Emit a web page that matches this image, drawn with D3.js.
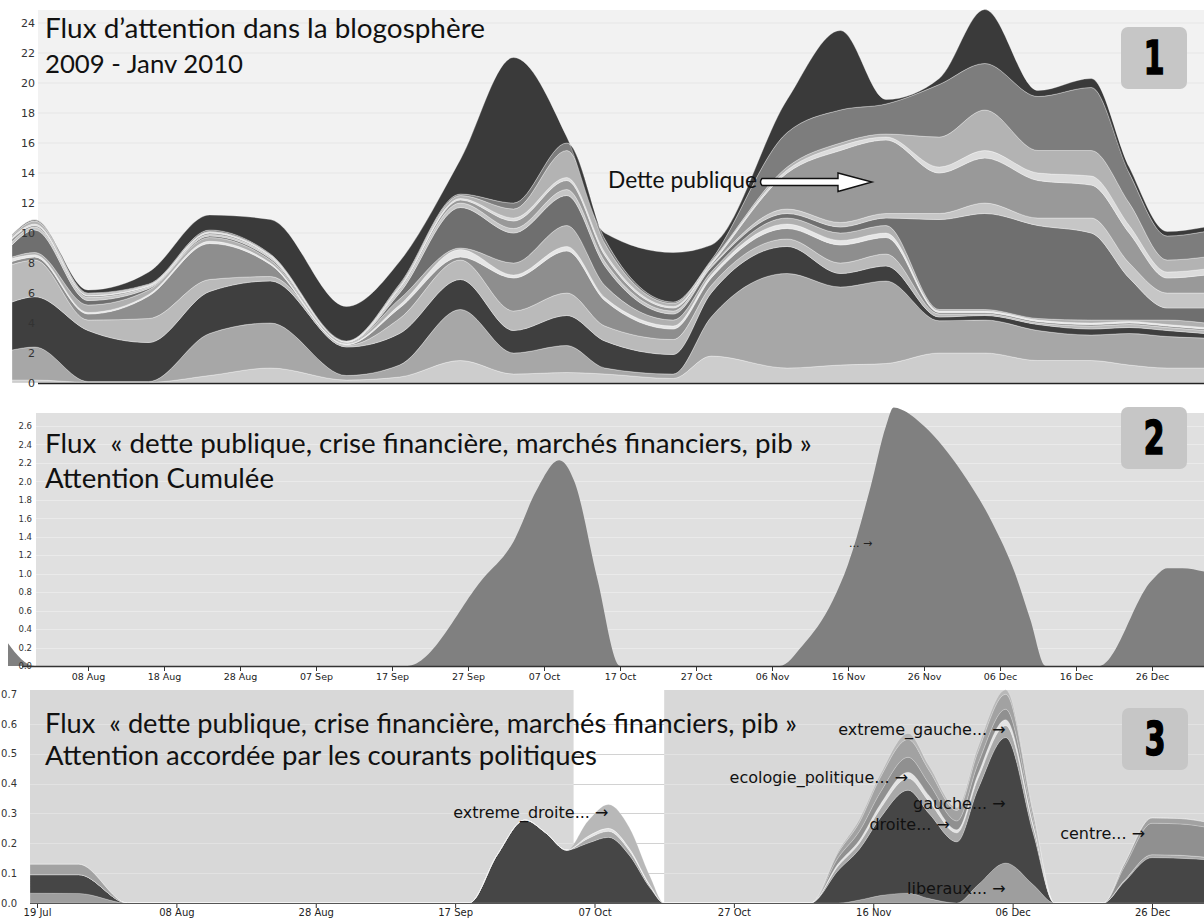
<!DOCTYPE html>
<html><head><meta charset="utf-8">
<script src="https://cdn.jsdelivr.net/npm/d3@7"></script>
<style>body{margin:0;background:#fff}svg{display:block}</style>
</head><body>
<svg id="c" width="1204" height="924"></svg>
<script>
// ---------------- DATA ----------------
// Panel 1: stream layers (bottom -> top)
const p1Dates = ["2009-07-29","2009-08-01","2009-08-08","2009-08-16","2009-08-24","2009-09-01","2009-09-11","2009-09-18","2009-09-26","2009-10-03","2009-10-10","2009-10-15","2009-10-24","2009-10-29","2009-11-08","2009-11-15","2009-11-21","2009-11-28","2009-12-04","2009-12-11","2009-12-18","2009-12-23","2009-12-28","2010-01-02"];
const p1L0  = [0.2,0.2,0.05,0.05,0.5,1.0,0.2,0.4,1.5,0.6,0.7,0.6,0.3,1.8,1.0,1.2,1.3,2.0,2.0,1.5,1.5,1.2,1.0,1.0];
const p1L1  = [2.0,2.2,0.05,0.05,2.8,3.0,0.3,0.8,3.4,1.4,1.8,0.4,0.3,2.6,6.3,5.2,5.5,2.15,2.2,2.0,1.7,2.1,2.1,2.0];
const p1L2  = [3.2,3.35,3.4,2.6,2.8,2.8,1.9,2.1,2.0,1.5,2.0,1.8,1.3,1.6,1.8,0.9,1.0,0.25,0.3,0.4,0.4,0.4,0.4,0.3];
const p1L3  = [2.5,2.45,0.7,1.6,0.8,0.3,0.1,1.0,1.3,1.3,1.5,1.0,1.0,0.5,0.5,0.7,0.8,0.2,0.1,0.1,0.2,0.2,0.2,0.2];
const p1L4  = [0.2,0.2,0.4,1.5,2.4,0.8,0.05,0.7,0.2,2.2,2.8,1.7,0.7,0.5,0.7,1.2,1.1,0.1,0.1,0.1,0.1,0.1,0.1,0.1];
const p1L5  = [0.2,0.15,0.1,0.1,0.15,0.1,0.05,0.2,0.5,0.2,0.3,0.2,0.2,0.2,0.3,0.3,0.3,0.1,0.1,0.1,0.1,0.1,0.1,0.1];
const p1L6  = [0.1,0.15,0.5,0.3,0.25,0.2,0.05,0.4,0.1,0.8,1.4,0.8,0.4,0.2,0.4,0.5,0.5,0.1,0.1,0.1,0.2,0.1,0.3,0.3];
const p1L7  = [0.8,1.5,0.3,0.1,0.1,0.1,0.05,0.4,2.7,2.0,2.0,1.3,0.4,0.3,0.3,0.4,0.5,6.0,6.4,6.2,5.8,2.8,0.8,1.0];
const p1L8  = [0.2,0.2,0.2,0.1,0.1,0.1,0.02,0.2,0.3,0.3,0.4,0.3,0.2,0.1,0.3,0.3,0.3,0.4,0.7,0.5,1.0,1.0,1.0,1.0];
const p1L9  = [0.2,0.1,0.1,0.05,0.1,0.05,0.02,0.1,0.2,0.5,0.6,0.4,0.2,0.1,2.4,4.8,4.9,2.7,3.0,2.5,2.2,2.0,1.0,1.2];
const p1L10 = [0.1,0.1,0.05,0.05,0.05,0.05,0.02,0.1,0.1,0.2,0.2,0.2,0.1,0.1,0.2,0.3,0.2,0.4,0.5,0.5,0.6,0.5,0.4,0.4];
const p1L11 = [0.1,0.2,0.1,0.05,0.05,0.05,0.02,0.1,0.2,0.6,1.8,0.6,0.2,0.1,0.2,0.2,0.2,2.0,2.7,1.5,1.7,1.5,0.8,0.8];
const p1L12 = [0.1,0.1,0.05,0.05,0.1,0.05,0.02,0.1,0.1,0.4,0.5,0.3,0.1,0.1,2.3,2.2,2.0,3.5,3.1,3.6,4.2,2.0,1.6,1.7];
const p1L13 = [0,0,0.2,0.8,1.0,2.3,2.3,1.5,2.3,9.7,0.4,0.4,3.3,1.0,2.2,5.3,0.3,0.4,3.6,0.4,0.6,0.4,0.3,0.3];
const p1Colors = ["#cdcdcd","#a7a7a7","#3f3f3f","#bababa","#8e8e8e","#e6e6e6","#b0b0b0","#6f6f6f","#c6c6c6","#999999","#dcdcdc","#b3b3b3","#7d7d7d","#3a3a3a"];
const p1YTicks = [0,2,4,6,8,10,12,14,16,18,20,22,24];

// Panel 2: cumulated attention
const p2Dates = ["2009-07-28","2009-08-01","2009-09-19","2009-09-29","2009-10-03","2009-10-06","2009-10-09","2009-10-11","2009-10-14","2009-10-17","2009-11-07","2009-11-10","2009-11-14","2009-11-16","2009-11-19","2009-11-21","2009-11-22","2009-11-23","2009-11-26","2009-12-01","2009-12-05","2009-12-08","2009-12-10","2009-12-12","2009-12-19","2009-12-26","2009-12-28","2009-12-30","2010-01-02"];
const p2Values = [0.3,0,0,0.95,1.35,1.9,2.23,2.0,0.95,0,0,0.22,0.71,1.1,1.95,2.6,2.8,2.78,2.6,2.1,1.55,1.0,0.5,0,0,0.93,1.06,1.06,1.02];
const p2Ticks = ["2009-08-08","2009-08-18","2009-08-28","2009-09-07","2009-09-17","2009-09-27","2009-10-07","2009-10-17","2009-10-27","2009-11-06","2009-11-16","2009-11-26","2009-12-06","2009-12-16","2009-12-26"];
const p2YTicks = [0,0.2,0.4,0.6,0.8,1.0,1.2,1.4,1.6,1.8,2.0,2.2,2.4,2.6];

// Panel 3: attention by political currents
const p3Dates = ["2009-07-18","2009-07-25","2009-08-01","2009-09-19","2009-09-23","2009-09-27","2009-09-30","2009-10-03","2009-10-06","2009-10-09","2009-10-12","2009-10-15","2009-10-17","2009-11-07","2009-11-11","2009-11-14","2009-11-17","2009-11-21","2009-11-24","2009-11-28","2009-12-01","2009-12-05","2009-12-09","2009-12-12","2009-12-19","2009-12-22","2009-12-26","2009-12-30","2010-01-03"];
const liberaux = [.033,.032,0, 0,0,0,0,0,0,0,0,0,0, 0,0,.01,.025,.033,.015,0,.06,.134,.06,0, 0,0,0,0,0];
const droite = [.062,.063,0, 0,.16,.278,.235,.177,.20,.22,.16,.05,0, 0,.11,.17,.26,.345,.285,.205,.32,.42,.17,0, 0,.07,.152,.15,.145];
const gauche = [0,0,0, 0,0,0,0,0,.015,.02,.015,.005,0, 0,.015,.02,.03,.04,.04,.03,.035,.04,.02,0, 0,.005,.01,.01,.008];
const ecologie_politique = [0,0,0, 0,0,0,0,0,.008,.01,.008,.003,0, 0,.008,.01,.015,.02,.02,.01,.015,.02,.01,0, 0,0,0,0,0];
const centre = [0,0,0, 0,0,0,0,0,0,0,0,0,0, 0,.02,.03,.04,.05,.04,.03,.035,.035,.015,0, 0,.045,.105,.105,.10];
const extreme_gauche = [.035,.035,0, 0,0,0,0,0,0,0,0,0,0, 0,.017,.03,.05,.06,.045,.035,.04,.05,.02,0, 0,.01,.018,.018,.017];
const extreme_droite = [0,0,0, 0,0,0,0,0,.05,.08,.07,.03,0, 0,.005,.01,.01,.02,.015,.01,.015,.015,.005,0, 0,0,0,0,0];
const p3Keys = ["liberaux","droite","gauche","ecologie_politique","centre","extreme_gauche","extreme_droite"];
const p3Colors = ["#9e9e9e","#464646","#a9a9a9","#e4e4e4","#909090","#a2a2a2","#b8b8b8"];
const p3Ticks = ["2009-07-19","2009-08-08","2009-08-28","2009-09-17","2009-10-07","2009-10-27","2009-11-16","2009-12-06","2009-12-26"];
const p3YTicks = [0,0.1,0.2,0.3,0.4,0.5,0.6,0.7];
const p3Highlight = ["2009-10-04","2009-10-17"];
const p3Labels = [
  {t:"extreme_droite... →", d:"2009-10-09", v:0.30},
  {t:"extreme_gauche... →", d:"2009-12-05", v:0.58},
  {t:"ecologie_politique... →", d:"2009-11-21", v:0.42},
  {t:"gauche... →", d:"2009-12-05", v:0.33},
  {t:"droite... →", d:"2009-11-27", v:0.26},
  {t:"liberaux... →", d:"2009-12-05", v:0.047},
  {t:"centre... →", d:"2009-12-25", v:0.23}
];

// ---------------- DRAW ----------------
const svg = d3.select("#c");
const parse = d3.timeParse("%Y-%m-%d");
const TITLE_FONT = "Lato, 'Open Sans', sans-serif";
const AX_FONT = "'DejaVu Sans', sans-serif";

function fit(sel, w){
  const cur = sel.node().getComputedTextLength();
  const fs = parseFloat(sel.attr("font-size"));
  sel.attr("font-size", (fs*w/cur).toFixed(2));
  return sel;
}
function badge(x,y,label){
  svg.append("rect").attr("x",x).attr("y",y).attr("width",66).attr("height",62).attr("rx",7).attr("fill","#c6c6c6");
  svg.append("text").attr("transform",`translate(${x+33},${y+47}) scale(0.72,1)`).attr("text-anchor","middle")
    .attr("font-family","'DejaVu Sans Condensed','Liberation Sans Narrow',sans-serif")
    .attr("font-weight","bold").attr("font-size",46).attr("fill","#000")
    .attr("stroke","#000").attr("stroke-width",1.6).text(label);
}

// ===== Panel 1 =====
const x1 = d3.scaleTime().domain([parse("2009-08-08"), parse("2009-12-26")]).range([88,1152]);
const y1 = d3.scaleLinear().domain([0,24]).range([383,23]);
svg.append("rect").attr("x",38).attr("y",10).attr("width",1166).attr("height",373).attr("fill","#f2f2f2");
svg.append("g").selectAll("line").data(p1YTicks.slice(1)).join("line")
  .attr("x1",38).attr("x2",1204).attr("y1",d=>y1(d)).attr("y2",d=>y1(d))
  .attr("stroke","#e6e6e6").attr("stroke-width",1);
const p1Layers = [p1L0,p1L1,p1L2,p1L3,p1L4,p1L5,p1L6,p1L7,p1L8,p1L9,p1L10,p1L11,p1L12,p1L13];
const p1Keys = p1Layers.map((_,i)=>"L"+i);
const p1Rows = p1Dates.map((d,i)=>{const r={date:parse(d)}; p1Layers.forEach((a,k)=>r["L"+k]=a[i]); return r;});
const p1Stack = d3.stack().keys(p1Keys)(p1Rows);
svg.append("clipPath").attr("id","clip1").append("rect").attr("x",12).attr("y",0).attr("width",1192).attr("height",384);
const area1 = d3.area().x(d=>x1(d.data.date)).y0(d=>y1(d[0])).y1(d=>y1(d[1])).curve(d3.curveMonotoneX);
svg.append("g").attr("clip-path","url(#clip1)").selectAll("path").data(p1Stack).join("path")
  .attr("d",area1).attr("fill",(d,i)=>p1Colors[i])
  .attr("stroke","rgba(255,255,255,0.45)").attr("stroke-width",0.7);
svg.append("line").attr("x1",38).attr("x2",1204).attr("y1",383.5).attr("y2",383.5).attr("stroke","#222").attr("stroke-width",1.6);
const ya1 = svg.append("g").attr("transform","translate(36,0)")
  .call(d3.axisLeft(y1).tickValues(p1YTicks).tickSize(0).tickPadding(1).tickFormat(d3.format("d")));
ya1.select(".domain").remove();
ya1.selectAll("text").attr("font-family",AX_FONT).attr("font-size",11).attr("fill","#333");

fit(svg.append("text").attr("x",45).attr("y",38).attr("font-family",TITLE_FONT).attr("font-size",24).attr("fill","#111")
  .text("Flux d’attention dans la blogosphère"), 440);
fit(svg.append("text").attr("x",45).attr("y",73).attr("font-family",TITLE_FONT).attr("font-size",24).attr("fill","#111")
  .text("2009 - Janv 2010"), 198);
fit(svg.append("text").attr("x",608).attr("y",188).attr("font-family",TITLE_FONT).attr("font-size",19).attr("fill","#111")
  .text("Dette publique"), 149);
// arrow
svg.append("path")
  .attr("d","M762,178.5 L838,178.5 L838,173 L872,182 L838,191.5 L838,185.5 L762,185.5 Q759,182 762,178.5 Z")
  .attr("fill","#fff").attr("stroke","#111").attr("stroke-width",1.4);
badge(1121,27,"1");

// ===== Panel 2 =====
const x2 = d3.scaleTime().domain([parse("2009-08-08"), parse("2009-12-26")]).range([88,1152]);
const y2 = d3.scaleLinear().domain([0,2.6]).range([666,426]);
svg.append("rect").attr("x",36).attr("y",413).attr("width",1168).attr("height",253).attr("fill","#e0e0e0");
svg.append("g").selectAll("line").data(p2YTicks.slice(1)).join("line")
  .attr("x1",36).attr("x2",1204).attr("y1",d=>Math.round(y2(d))+0.5).attr("y2",d=>Math.round(y2(d))+0.5)
  .attr("stroke","#eaeaea").attr("stroke-width",1);
svg.append("clipPath").attr("id","clip2").append("rect").attr("x",8).attr("y",380).attr("width",1196).attr("height",286);
const area2 = d3.area().x((d,i)=>x2(parse(p2Dates[i]))).y0(y2(0)).y1(d=>y2(d)).curve(d3.curveMonotoneX);
svg.append("path").attr("clip-path","url(#clip2)").datum(p2Values).attr("d",area2).attr("fill","#808080");
svg.append("line").attr("x1",22).attr("x2",1204).attr("y1",666.5).attr("y2",666.5).attr("stroke","#333").attr("stroke-width",1.4);
const xa2 = svg.append("g").attr("transform","translate(0,667)")
  .call(d3.axisBottom(x2).tickValues(p2Ticks.map(parse)).tickFormat(d3.timeFormat("%d %b")).tickSize(4).tickPadding(2));
xa2.select(".domain").remove();
xa2.selectAll("line").attr("stroke","#333");
xa2.selectAll("text").attr("font-family",AX_FONT).attr("font-size",9.5).attr("fill","#222");
const ya2 = svg.append("g").attr("transform","translate(33,0)")
  .call(d3.axisLeft(y2).tickValues(p2YTicks).tickSize(0).tickPadding(1).tickFormat(d3.format(".1f")));
ya2.select(".domain").remove();
ya2.selectAll("text").attr("font-family",AX_FONT).attr("font-size",8.5).attr("fill","#333");
fit(svg.append("text").attr("x",45).attr("y",453).attr("font-family",TITLE_FONT).attr("font-size",24).attr("fill","#111")
  .text("Flux \u00a0« dette publique, crise financière, marchés financiers, pib »"), 767);
fit(svg.append("text").attr("x",45).attr("y",488).attr("font-family",TITLE_FONT).attr("font-size",24).attr("fill","#111")
  .text("Attention Cumulée"), 229);
svg.append("text").attr("x",849).attr("y",547).attr("font-family",AX_FONT).attr("font-size",11).attr("fill","#222").text("... →");
badge(1121,407,"2");

// ===== Panel 3 =====
const x3 = d3.scaleTime().domain([parse("2009-07-19"), parse("2009-12-26")]).range([37,1152]);
const y3 = d3.scaleLinear().domain([0,0.7]).range([903,694]);
svg.append("rect").attr("x",30).attr("y",690).attr("width",1174).attr("height",213).attr("fill","#d8d8d8");
const hx0 = x3(parse(p3Highlight[0])), hx1 = x3(parse(p3Highlight[1]));
svg.append("rect").attr("x",hx0).attr("y",690).attr("width",hx1-hx0).attr("height",213).attr("fill","#ffffff");
svg.append("g").selectAll("line").data(p3YTicks.slice(1,7)).join("line")
  .attr("x1",30).attr("x2",1204).attr("y1",d=>Math.round(y3(d))+0.5).attr("y2",d=>Math.round(y3(d))+0.5)
  .attr("stroke","#e2e2e2").attr("stroke-width",1);
svg.append("g").selectAll("line").data(p3YTicks.slice(1,7)).join("line")
  .attr("x1",hx0).attr("x2",hx1).attr("y1",d=>Math.round(y3(d))+0.5).attr("y2",d=>Math.round(y3(d))+0.5)
  .attr("stroke","#d2d2d2").attr("stroke-width",1);
const p3Series = [liberaux,droite,gauche,ecologie_politique,centre,extreme_gauche,extreme_droite];
const p3Rows = p3Dates.map((d,i)=>{const r={date:parse(d)}; p3Keys.forEach((k,j)=>r[k]=p3Series[j][i]); return r;});
const p3Stack = d3.stack().keys(p3Keys)(p3Rows);
svg.append("clipPath").attr("id","clip3").append("rect").attr("x",30).attr("y",680).attr("width",1174).attr("height",223);
const area3 = d3.area().x(d=>x3(d.data.date)).y0(d=>y3(d[0])).y1(d=>y3(d[1])).curve(d3.curveMonotoneX);
svg.append("g").attr("clip-path","url(#clip3)").selectAll("path").data(p3Stack).join("path")
  .attr("d",area3).attr("fill",(d,i)=>p3Colors[i])
  .attr("stroke","rgba(255,255,255,0.35)").attr("stroke-width",0.6);
svg.append("line").attr("x1",30).attr("x2",1204).attr("y1",903.5).attr("y2",903.5).attr("stroke","#555").attr("stroke-width",1.2);
const xa3 = svg.append("g").attr("transform","translate(0,904)")
  .call(d3.axisBottom(x3).tickValues(p3Ticks.map(parse)).tickFormat(d3.timeFormat("%d %b")).tickSize(4).tickPadding(1));
xa3.select(".domain").remove();
xa3.selectAll("line").attr("stroke","#333");
xa3.selectAll("text").attr("font-family",AX_FONT).attr("font-size",10).attr("fill","#222");
const ya3 = svg.append("g").attr("transform","translate(17,0)")
  .call(d3.axisLeft(y3).tickValues(p3YTicks).tickSize(0).tickPadding(0).tickFormat(d3.format(".1f")));
ya3.select(".domain").remove();
ya3.selectAll("text").attr("font-family",AX_FONT).attr("font-size",10).attr("fill","#333");
fit(svg.append("text").attr("x",45).attr("y",733).attr("font-family",TITLE_FONT).attr("font-size",24).attr("fill","#111")
  .text("Flux \u00a0« dette publique, crise financière, marchés financiers, pib »"), 752);
fit(svg.append("text").attr("x",45).attr("y",765).attr("font-family",TITLE_FONT).attr("font-size",24).attr("fill","#111")
  .text("Attention accordée par les courants politiques"), 552);
svg.append("g").selectAll("text").data(p3Labels).join("text")
  .attr("x",d=>x3(parse(d.d))).attr("y",d=>y3(d.v)+5).attr("text-anchor","end")
  .attr("font-family",AX_FONT).attr("font-size",16).attr("fill","#111").text(d=>d.t);
badge(1122,708,"3");
</script>
</body></html>
